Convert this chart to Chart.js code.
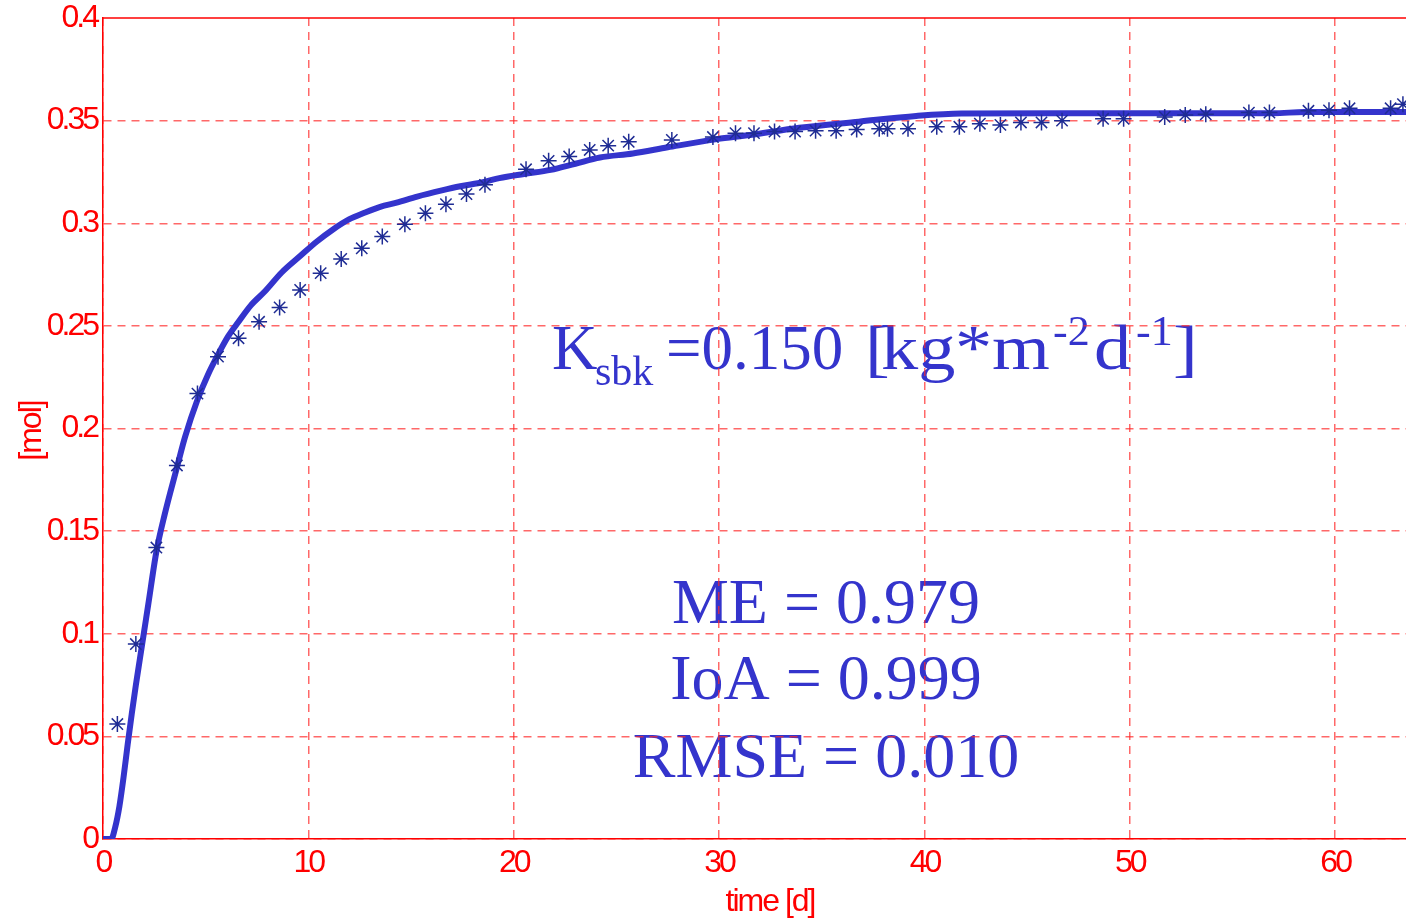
<!DOCTYPE html>
<html>
<head>
<meta charset="utf-8">
<title>Ksbk fit</title>
<script src="https://cdn.jsdelivr.net/npm/chart.js@4.4.1/dist/chart.umd.min.js"></script>
<style>
  html, body { margin: 0; padding: 0; background: #fff; overflow: hidden; }
  #wrap { position: relative; width: 1406px; height: 920px; }
</style>
</head>
<body>
<div id="wrap"><canvas id="myChart"></canvas></div>
<script>
// measured values (stars)
const obsDays = [0.7, 1.6, 2.6, 3.6, 4.6, 5.6, 6.6, 7.6, 8.6, 9.6, 10.6, 11.6, 12.6, 13.6, 14.7, 15.7, 16.7, 17.7, 18.6,
    20.6, 21.7, 22.7, 23.7, 24.6, 25.6, 27.7, 29.7, 30.8, 31.7, 32.7, 33.7, 34.7, 35.7, 36.7, 37.8, 38.2, 39.2,
    40.6, 41.7, 42.7, 43.7, 44.7, 45.7, 46.7, 48.7, 49.7, 51.7, 52.7, 53.7, 55.8, 56.8, 58.7, 59.7, 60.7, 62.7, 63.3];
const obsMol = [0.056, 0.095, 0.142, 0.182, 0.217, 0.235, 0.244, 0.252, 0.259, 0.2675, 0.2757, 0.2826, 0.2878, 0.2935, 0.2995, 0.3049, 0.3093, 0.3142, 0.3187,
    0.3263, 0.3304, 0.3325, 0.3357, 0.3378, 0.3397, 0.3406, 0.342, 0.3439, 0.3439, 0.3447, 0.3447, 0.3451, 0.3451, 0.3457, 0.3461, 0.3461, 0.3461,
    0.347, 0.347, 0.3485, 0.3479, 0.3491, 0.3491, 0.35, 0.3509, 0.3509, 0.3518, 0.3528, 0.3531, 0.3539, 0.3539, 0.3548, 0.355, 0.356, 0.356, 0.358];

// simulated curve
const simDays = [0, 0.4, 0.6, 0.8, 1.0, 1.2, 1.4, 1.6, 1.8, 2.0, 2.2, 2.6, 3.0, 3.6, 4.0, 4.6, 5.1, 5.6, 6.1, 6.6, 7.2, 7.9, 8.7,
    9.6, 10.4, 11.2, 12.0, 12.7, 13.5, 14.3, 15.3, 16.5, 17.4, 18.5, 19.3, 20.5, 21.8, 23.0, 24.2, 25.8, 27.5, 29.9,
    31.5, 33.9, 36.8, 39.6, 41.8, 46.7, 57.0, 58.5, 63.5];
const simMol = [0, 0, 0.006, 0.016, 0.030, 0.046, 0.061, 0.075, 0.088, 0.101, 0.114, 0.140, 0.158, 0.181, 0.196, 0.214, 0.226, 0.236, 0.245, 0.252, 0.260, 0.267, 0.276,
    0.284, 0.291, 0.297, 0.302, 0.305, 0.308, 0.310, 0.313, 0.316, 0.318, 0.320, 0.322, 0.324, 0.326, 0.329, 0.332, 0.334, 0.337, 0.341,
    0.343, 0.3465, 0.3495, 0.3523, 0.3535, 0.3536, 0.3536, 0.3542, 0.3542];

const xTicks = [0, 10, 20, 30, 40, 50, 60];
const yTicks = [0, 0.05, 0.1, 0.15, 0.2, 0.25, 0.3, 0.35, 0.4];
const yTickLabels = ['0', '0.05', '0.1', '0.15', '0.2', '0.25', '0.3', '0.35', '0.4'];
const xTitle = 'time [d]';
const yTitle = '[mol]';
const fitLines = ['ME = 0.979', 'IoA = 0.999', 'RMSE = 0.010'];

const red = '#ff0000';
const blue = '#3434cc';
const gridRed = 'rgba(255, 40, 40, 0.7)';
const axisFont = '"Liberation Sans", Arial, sans-serif';
const serif = '"Liberation Serif", "Times New Roman", serif';

// K_sbk line and error measures, drawn under the grid like in the original
function drawFitText(ctx) {
    ctx.save();
    ctx.letterSpacing = '0px';
    ctx.fillStyle = blue;
    ctx.textBaseline = 'alphabetic';
    ctx.textAlign = 'left';

    const big = '63px ' + serif;
    const sub = '42px ' + serif;
    const sup = '42px ' + serif;
    // text, font, left x, baseline, horizontal stretch
    const parts = [
        ['K', big, 552, 369, 1],
        ['sbk', sub, 595, 385, 1],
        ['=0.150', big, 666, 369, 1],
        ['[', big, 865, 369, 1.18],
        ['kg', big, 881, 369, 1.18],
        ['*', big, 955, 369, 1.18],
        ['m', big, 992, 369, 1.18],
        ['-2', sup, 1053, 345, 1.05],
        ['d', big, 1094, 369, 1.18],
        ['-1', sup, 1136, 345, 1.05],
        [']', big, 1173, 369, 1.18]
    ];
    parts.forEach((p) => {
        ctx.save();
        ctx.font = p[1];
        ctx.translate(p[2], p[3]);
        ctx.scale(p[4], 1);
        ctx.fillText(p[0], 0, 0);
        ctx.restore();
    });

    ctx.font = '64px ' + serif;
    ctx.textAlign = 'center';
    const baselines = [623, 699, 777];
    fitLines.forEach((t, i) => {
        ctx.fillText(t, 826, baselines[i]);
    });
    ctx.restore();
}

const textPlugin = {
    id: 'textPlugin',
    beforeDraw(chart) {
        const ctx = chart.ctx;
        drawFitText(ctx);
        ctx.letterSpacing = '-3px';
    },
    afterDraw(chart) {
        const ctx = chart.ctx;
        const area = chart.chartArea;
        ctx.save();
        // top edge of the box
        ctx.strokeStyle = red;
        ctx.lineWidth = 1.5;
        ctx.beginPath();
        ctx.moveTo(area.left, area.top);
        ctx.lineTo(area.right, area.top);
        ctx.stroke();

        ctx.fillStyle = red;
        ctx.font = '32px ' + axisFont;
        ctx.letterSpacing = '-2px';
        ctx.textAlign = 'center';
        ctx.textBaseline = 'alphabetic';
        ctx.fillText(xTitle, 770, 911);
        ctx.translate(41, 431);
        ctx.rotate(-Math.PI / 2);
        ctx.fillText(yTitle, 0, 0);
        ctx.restore();
    }
};

const chart1 = document.getElementById('myChart');

new Chart(chart1, {
    type: 'scatter',
    data: {
        datasets: [{
            label: 'measured',
            data: obsDays.map((d, i) => ({ x: d, y: obsMol[i] })),
            pointStyle: 'star',
            pointRadius: 8,
            borderColor: '#1f2c94',
            backgroundColor: '#1f2c94',
            pointBorderWidth: 1.5,
            showLine: false,
            order: 0
        }, {
            label: 'simulated',
            data: simDays.map((d, i) => ({ x: d, y: simMol[i] })),
            showLine: true,
            pointRadius: 0,
            borderColor: blue,
            borderWidth: 6,
            cubicInterpolationMode: 'monotone',
            order: 1
        }]
    },
    options: {
        responsive: true,
        maintainAspectRatio: false,
        animation: false,
        layout: { autoPadding: false, padding: { top: 18, right: 0, left: 0, bottom: 0 } },
        plugins: {
            legend: { display: false },
            tooltip: { enabled: false }
        },
        scales: {
            x: {
                type: 'linear',
                min: 0,
                max: 63.45,
                afterBuildTicks: (axis) => { axis.ticks = xTicks.map(v => ({ value: v })); },
                afterFit: (scale) => { scale.height = 81; scale.paddingLeft = 0; scale.paddingRight = 0; },
                ticks: {
                    color: red,
                    padding: 8,
                    maxRotation: 0,
                    font: { family: axisFont, size: 32, lineHeight: 1 }
                },
                grid: { color: gridRed, lineWidth: 1.5, drawTicks: false },
                border: { color: red, width: 1.5, dash: [8, 6] }
            },
            y: {
                min: 0,
                max: 0.4,
                afterBuildTicks: (axis) => { axis.ticks = yTicks.map(v => ({ value: v })); },
                afterFit: (scale) => { scale.width = 103; scale.paddingTop = 0; scale.paddingBottom = 0; },
                ticks: {
                    color: red,
                    padding: 6,
                    font: { family: axisFont, size: 32, lineHeight: 1 },
                    callback: function(value, index) {
                        return yTickLabels[index];
                    }
                },
                grid: {
                    color: (c) => (c.tick && c.tick.value === 0.4 ? 'rgba(0,0,0,0)' : gridRed),
                    lineWidth: 1.5,
                    drawTicks: false
                },
                border: { color: red, width: 1.5, dash: [8, 6] }
            }
        }
    },
    plugins: [textPlugin]
});
</script>
</body>
</html>
